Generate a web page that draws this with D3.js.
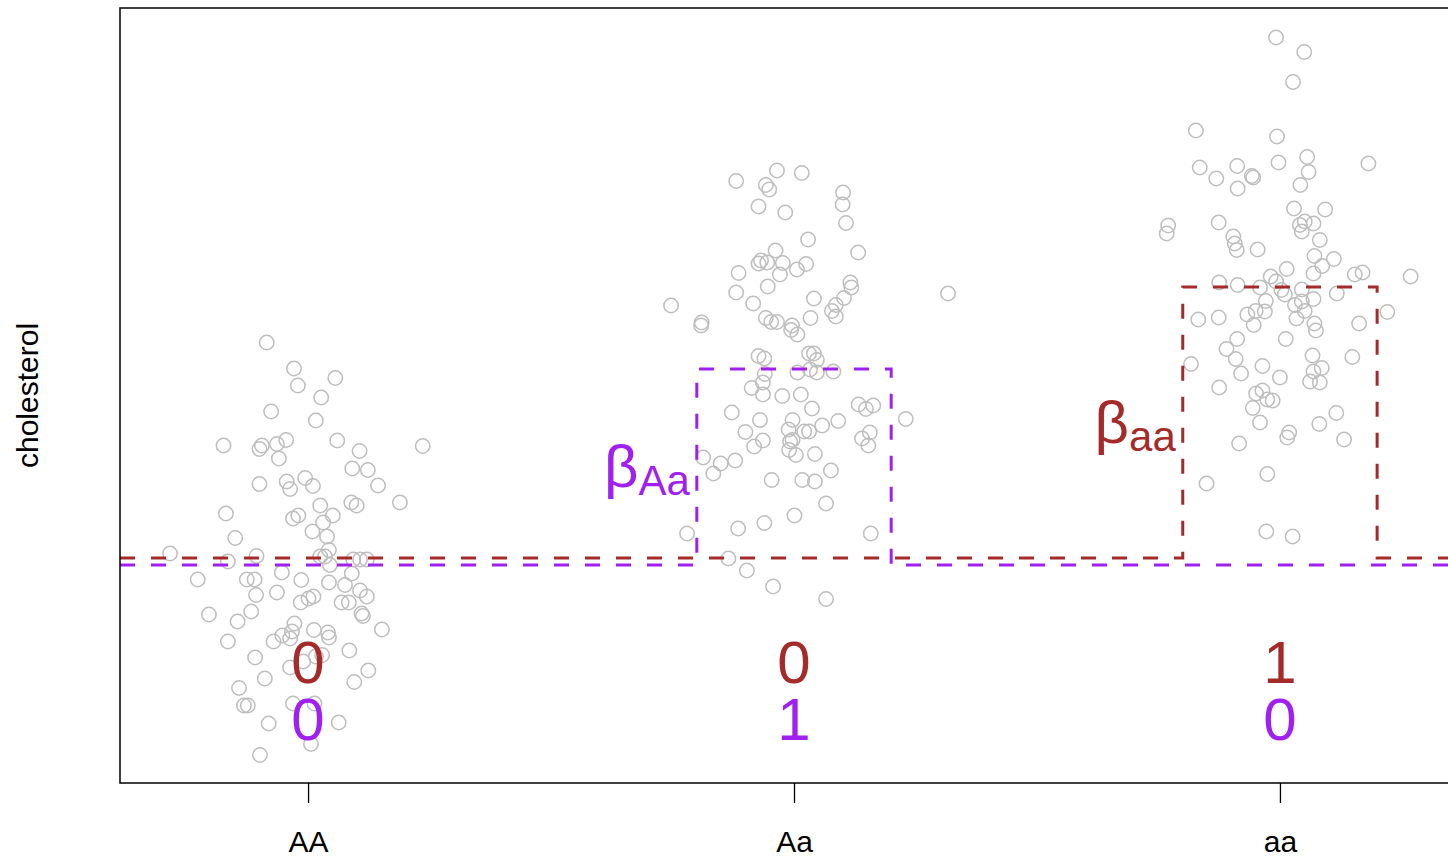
<!DOCTYPE html>
<html>
<head>
<meta charset="utf-8">
<script src="https://cdn.jsdelivr.net/npm/d3@7"></script>
<style>
  html, body { margin: 0; padding: 0; background: #fff; }
  svg { display: block; font-family: "Liberation Sans", Arial, Helvetica, sans-serif; }
</style>
</head>
<body>
<div id="chart"></div>
<script>
const genotypes = ['AA', 'Aa', 'aa'];

// [jitter from genotype position, cholesterol]
const pointsAA = [
  [-0.085,188.1],[-0.029,182.9],[0.056,181.0],[-0.021,179.5],[0.027,177.1],[-0.076,174.3],[0.016,172.5],
  [-0.174,167.5],[-0.095,167.5],[-0.100,166.8],[-0.064,167.8],[-0.045,168.6],[0.060,168.5],[0.236,167.4],
  [0.106,166.4],[-0.060,164.9],[0.091,162.9],[0.123,162.6],[-0.100,159.8],[-0.044,160.3],[-0.037,158.8],
  [-0.006,161.0],[0.010,159.4],[0.144,159.5],[0.025,155.5],[0.089,156.1],[0.100,155.5],[0.189,156.1],
  [-0.169,153.9],[-0.031,152.9],[-0.020,153.5],[0.051,153.5],[0.031,152.1],[0.009,150.3],[-0.150,149.0],
  [0.039,149.3],[-0.284,145.9],[0.043,146.6],[-0.106,145.4],[-0.165,144.3],[0.025,145.3],[0.035,145.3],
  [0.045,143.6],[0.093,144.7],[0.107,144.7],[0.121,144.7],[-0.227,140.7],[-0.126,140.7],[-0.110,140.7],
  [-0.054,142.1],[-0.014,140.6],[0.043,140.1],[0.076,139.6],[0.090,141.9],[-0.107,137.6],[-0.064,138.1],
  [-0.015,136.1],[0.001,136.9],[0.011,137.3],[0.107,138.5],[0.121,137.3],[0.069,136.1],[0.084,136.1],
  [-0.204,133.7],[-0.117,134.3],[-0.145,132.3],[0.110,133.9],[0.113,133.4],[0.152,130.7],[-0.028,131.9],
  [-0.165,128.3],[-0.071,128.3],[-0.053,129.5],[-0.037,128.9],[-0.033,130.3],[0.012,130.6],[0.041,130.1],
  [0.043,129.1],[0.085,126.5],[-0.109,125.1],[-0.037,123.1],[-0.010,124.3],[0.016,125.3],[0.029,125.6],
  [0.124,122.5],[-0.089,120.9],[0.095,120.2],[-0.142,119.0],[-0.132,115.5],[-0.124,115.5],[-0.031,115.9],
  [0.013,115.9],[-0.081,111.9],[0.063,112.1],[0.006,107.8],[-0.099,105.6]
];

const pointsAa = [
  [-0.119,220.4],[-0.035,222.5],[0.016,222.0],[-0.058,219.6],[-0.051,218.7],[0.101,218.1],[0.100,215.7],
  [-0.073,215.3],[-0.018,214.1],[0.107,212.0],[0.029,208.7],[0.132,206.1],[-0.038,206.5],[-0.073,203.9],
  [-0.068,204.5],[-0.055,204.1],[-0.023,204.0],[0.025,203.8],[0.006,202.7],[-0.029,201.7],[-0.114,202.0],
  [-0.119,198.1],[-0.054,199.3],[0.116,200.1],[0.118,199.1],[0.103,197.0],[0.041,196.9],[-0.084,195.9],
  [-0.253,195.5],[0.317,197.9],[0.086,195.6],[0.078,194.4],[0.086,193.3],[-0.190,192.1],[-0.191,191.5],
  [-0.058,193.0],[-0.047,192.2],[-0.035,192.2],[-0.004,191.5],[-0.006,190.6],[0.007,189.7],[0.034,193.0],
  [-0.073,185.4],[-0.061,184.9],[0.031,185.9],[0.041,185.9],[0.047,184.6],[-0.060,181.8],[-0.064,180.1],
  [-0.087,179.0],[-0.064,177.7],[0.007,182.1],[0.033,182.7],[0.047,182.1],[0.081,182.3],[-0.024,177.4],
  [0.014,177.7],[0.037,174.9],[-0.128,174.1],[-0.070,172.6],[-0.003,172.6],[-0.011,170.7],[-0.100,170.2],
  [-0.064,168.5],[-0.082,167.3],[0.021,170.3],[0.031,170.3],[0.058,171.5],[0.091,172.4],[0.133,175.7],
  [0.148,174.8],[0.163,175.5],[0.230,172.8],[0.140,168.9],[0.156,170.1],[0.153,167.5],[-0.008,168.3],
  [-0.003,168.6],[-0.010,166.6],[0.004,165.6],[0.043,165.8],[-0.187,165.1],[-0.151,163.9],[-0.121,164.5],
  [-0.166,161.9],[-0.046,160.6],[0.017,160.6],[0.043,160.3],[0.076,162.5],[0.066,155.9],[0.001,153.5],
  [-0.061,152.0],[-0.115,150.9],[-0.220,149.9],[0.158,149.9],[-0.135,144.9],[-0.097,142.5],[-0.043,139.3],
  [0.066,136.8]
];

const pointsaa = [
  [-0.008,249.1],[0.050,246.2],[0.027,240.2],[-0.173,230.5],[-0.006,229.3],[-0.165,223.1],[-0.131,220.9],
  [-0.088,223.4],[-0.087,218.9],[-0.058,221.4],[-0.055,221.1],[-0.003,224.1],[0.056,225.2],[0.059,222.2],
  [0.042,219.6],[0.182,223.9],[0.029,214.9],[0.093,214.7],[-0.126,212.1],[-0.230,211.5],[-0.233,209.9],
  [0.041,211.6],[0.051,212.3],[0.069,211.9],[0.045,210.3],[-0.096,209.3],[0.082,208.6],[-0.093,207.9],
  [-0.089,206.6],[-0.046,206.7],[0.071,205.4],[0.111,204.8],[0.087,203.4],[0.014,202.8],[0.069,201.9],
  [0.154,201.7],[0.170,202.1],[0.269,201.3],[-0.125,200.1],[-0.087,199.6],[-0.041,199.1],[-0.019,201.3],
  [-0.008,200.3],[0.003,198.6],[0.010,197.7],[0.045,198.7],[0.117,197.9],[-0.029,196.4],[0.069,196.8],
  [0.031,195.6],[0.045,196.3],[0.051,194.4],[0.221,194.2],[-0.168,192.7],[-0.126,193.1],[-0.067,193.7],
  [-0.050,194.4],[-0.031,194.3],[-0.054,191.6],[0.034,192.9],[0.071,191.9],[0.074,190.5],[0.163,191.9],
  [-0.088,188.8],[0.012,188.8],[-0.110,186.8],[-0.091,184.8],[-0.183,183.8],[-0.036,183.4],[0.067,185.5],
  [0.086,183.0],[0.149,185.2],[-0.080,181.9],[0.000,181.1],[0.069,182.3],[0.062,180.3],[0.082,180.1],
  [-0.125,179.1],[-0.049,177.9],[-0.036,178.5],[-0.026,176.7],[-0.015,176.5],[-0.056,175.0],[0.116,174.0],
  [-0.041,172.1],[0.081,171.8],[0.019,170.1],[0.015,169.1],[0.132,168.7],[-0.084,167.9],[-0.026,161.8],
  [-0.151,159.9],[-0.028,150.3],[0.026,149.3]
];

// fitted step lines: baseline (AA) and genotype effect
const baseBrown = 145.0;
const betaaa = 54.2;
const basePurple = 143.6;
const betaAa = 39.2;
const halfWidth = 0.2;

// indicator codes printed under each genotype
const codeaa = [0, 0, 1];
const codeAa = [0, 1, 0];

const brown = '#A52A2A';
const purple = '#A020F0';
const grey = '#BEBEBE';

const width = 1448, height = 856;
const margin = { top: 8, left: 120, bottom: 73 };
const plotRight = 1468;

const svg = d3.select('#chart').append('svg')
  .attr('width', width)
  .attr('height', height);

const x = d3.scaleLinear()
  .domain([0.613, 3.387])
  .range([margin.left, plotRight]);

const y = d3.scaleLinear()
  .domain([100, 255])
  .range([height - margin.bottom, margin.top]);

const groups = [pointsAA, pointsAa, pointsaa];

// points
groups.forEach((pts, gi) => {
  svg.append('g')
    .selectAll('circle')
    .data(pts)
    .enter()
    .append('circle')
    .attr('cx', d => x(gi + 1 + d[0]))
    .attr('cy', d => y(d[1]))
    .attr('r', 7.2)
    .attr('fill', 'none')
    .attr('stroke', grey)
    .attr('stroke-width', 1.5);
});

// step line helper
function stepLine(base, beta, pos) {
  const [lo, hi] = x.domain();
  return [
    [lo, base], [pos - halfWidth, base], [pos - halfWidth, base + beta],
    [pos + halfWidth, base + beta], [pos + halfWidth, base], [hi, base]
  ];
}

const line = d3.line()
  .x(d => x(d[0]))
  .y(d => y(d[1]));

svg.append('path')
  .datum(stepLine(baseBrown, betaaa, 3))
  .attr('fill', 'none')
  .attr('stroke', brown)
  .attr('stroke-width', 3)
  .attr('stroke-dasharray', '15,16')
  .attr('d', line);

svg.append('path')
  .datum(stepLine(basePurple, betaAa, 2))
  .attr('fill', 'none')
  .attr('stroke', purple)
  .attr('stroke-width', 3)
  .attr('stroke-dasharray', '15,16')
  .attr('d', line);

// beta labels
function betaLabel(sub, pos, base, beta, color) {
  const t = svg.append('text')
    .attr('x', x(pos - halfWidth) - 7)
    .attr('y', y(base + beta / 2) + 20)
    .attr('text-anchor', 'end')
    .attr('fill', color);
  t.append('tspan').attr('font-size', 60).text('β');
  t.append('tspan').attr('font-size', 42).attr('dy', 8).text(sub);
}
betaLabel('Aa', 2, basePurple, betaAa, purple);
betaLabel('aa', 3, baseBrown, betaaa, brown);

// indicator codes
const bottom = height - margin.bottom;
svg.append('g')
  .selectAll('text')
  .data(codeaa)
  .enter()
  .append('text')
  .attr('x', (d, i) => x(i + 1))
  .attr('y', bottom - 100)
  .attr('text-anchor', 'middle')
  .attr('font-size', 60)
  .attr('fill', brown)
  .text(d => d);

svg.append('g')
  .selectAll('text')
  .data(codeAa)
  .enter()
  .append('text')
  .attr('x', (d, i) => x(i + 1))
  .attr('y', bottom - 43)
  .attr('text-anchor', 'middle')
  .attr('font-size', 60)
  .attr('fill', purple)
  .text(d => d);

// frame
svg.append('rect')
  .attr('x', margin.left)
  .attr('y', margin.top)
  .attr('width', plotRight - margin.left)
  .attr('height', bottom - margin.top)
  .attr('fill', 'none')
  .attr('stroke', '#000')
  .attr('stroke-width', 1.5);

// x axis
const xAxis = svg.append('g')
  .attr('transform', `translate(0,${bottom})`)
  .call(d3.axisBottom(x)
    .tickValues([1, 2, 3])
    .tickFormat((d, i) => genotypes[i])
    .tickSize(20)
    .tickPadding(28));
xAxis.select('.domain').remove();
xAxis.selectAll('line').attr('stroke', '#000').attr('stroke-width', 1.3);
xAxis.selectAll('text')
  .attr('fill', '#000')
  .style('font-size', '30px')
  .style('font-family', '"Liberation Sans", Arial, Helvetica, sans-serif');

// y label
svg.append('text')
  .attr('transform', `translate(38,${(margin.top + bottom) / 2}) rotate(-90)`)
  .attr('text-anchor', 'middle')
  .attr('font-size', 30)
  .attr('fill', '#000')
  .text('cholesterol');
</script>
</body>
</html>
